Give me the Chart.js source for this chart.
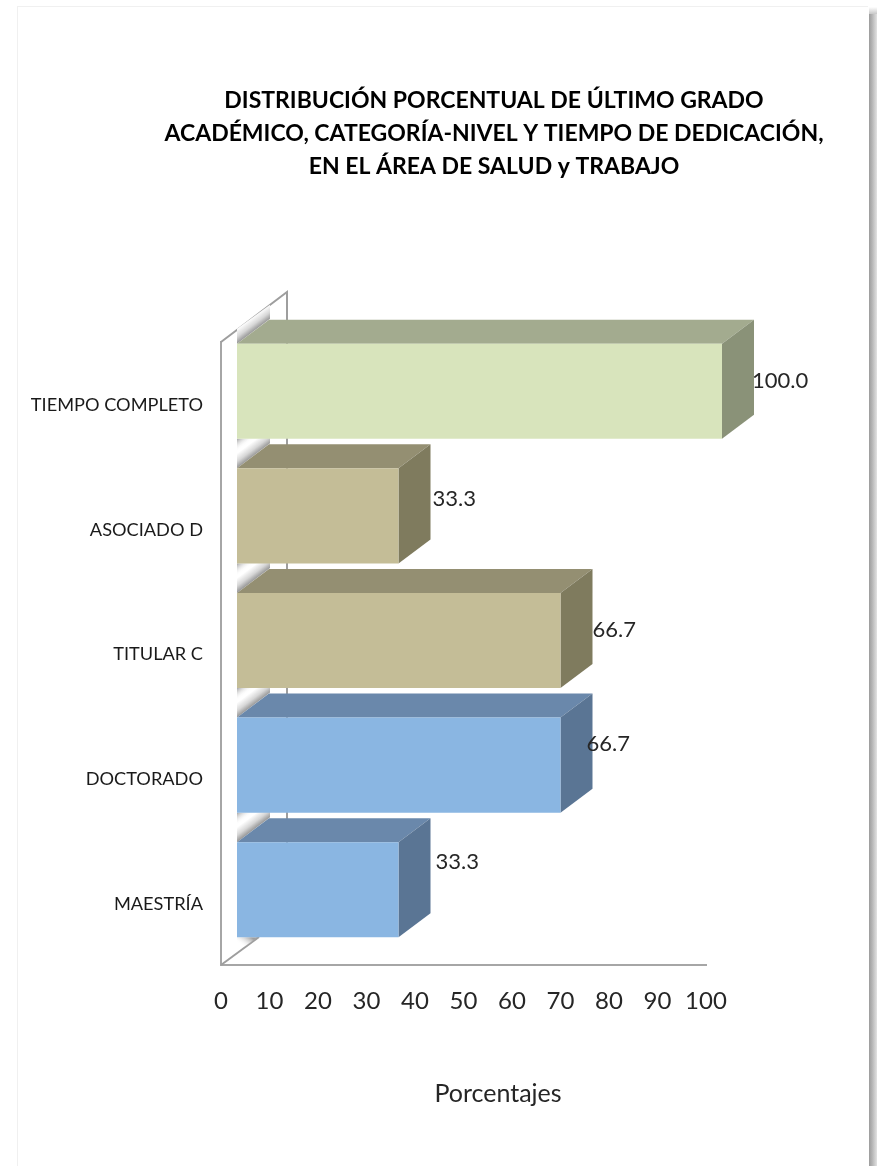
<!DOCTYPE html>
<html><head><meta charset="utf-8">
<script src="https://cdn.jsdelivr.net/npm/chart.js@4"></script>
<style>
html,body{margin:0;padding:0;background:#fff;width:877px;height:1166px;overflow:hidden}
#card{position:absolute;left:17px;top:6px;width:851px;height:1175px;background:#fff;border-left:1px solid #f0f0f0;border-top:1px solid #f0f0f0;box-sizing:border-box}
#shadow{position:absolute;left:869px;top:14px;width:8px;height:1152px;background:linear-gradient(to right,#9c9c9c,#b5b5b5 40%,#e2e2e2)}
#shadowTop{position:absolute;left:869px;top:7px;width:8px;height:7px;background:linear-gradient(to bottom,#fff,#c8c8c8)}
#wrap{position:absolute;left:0;top:0;width:877px;height:1166px}
</style></head><body>
<div id="card"></div><div id="shadowTop"></div><div id="shadow"></div>
<div id="wrap"><canvas id="c" width="877" height="1166"></canvas></div>
<script>
const titleLines = ["DISTRIBUCIÓN PORCENTUAL DE ÚLTIMO GRADO","ACADÉMICO, CATEGORÍA-NIVEL Y TIEMPO DE DEDICACIÓN,","EN EL ÁREA DE SALUD y TRABAJO"];
const categories = ["TIEMPO COMPLETO","ASOCIADO D","TITULAR C","DOCTORADO","MAESTRÍA"];
const values = [100.0,33.3,66.7,66.7,33.3];
const xTicks = [0,10,20,30,40,50,60,70,80,90,100];
const axisTitle = "Porcentajes";
const frontColors = ["#D8E4BC","#C4BD97","#C4BD97","#8AB6E2","#8AB6E2"];
const topColors = ["#A3AB8F","#948F72","#948F72","#6A88AB","#6A88AB"];
const sideColors = ["#8A9278","#7F7B5E","#7F7B5E","#5A7594","#5A7594"];
const labelDx = [30,34,32,26,37];
const labelDy = [-9,-16,-10,-20,-27];
const DX = 16, DY = -13, DEPTH_X = 32, DEPTH_Y = -24;
const FONT = "Lato, Carlito, sans-serif";

function poly(ctx, pts, fill){
  ctx.beginPath();
  pts.forEach((p,i)=> i?ctx.lineTo(p[0],p[1]):ctx.moveTo(p[0],p[1]));
  ctx.closePath();
  if(fill){ctx.fillStyle=fill;ctx.fill();}
}
const box3d = {
  id:'box3d',
  afterLayout(chart){
    const t = chart.titleBlock; const w = t.right - t.left;
    t.left = 494 - w/2; t.right = 494 + w/2;
  },
  beforeDatasetsDraw(chart){
    const {ctx, chartArea:a} = chart;
    const meta = chart.getDatasetMeta(0);
    const bx = a.left + 66, by = -50;
    ctx.save();
    ctx.strokeStyle = '#9E9E9E'; ctx.lineWidth = 2;
    ctx.beginPath();
    ctx.moveTo(a.left, a.top); ctx.lineTo(bx, a.top + by); ctx.lineTo(bx, a.bottom + by);
    ctx.stroke();
    ctx.beginPath(); ctx.moveTo(a.left, a.bottom); ctx.lineTo(a.left+38, a.bottom-28); ctx.stroke();
    const x0 = a.left + DX;
    meta.data.forEach((b,i)=>{
      const top = b.y - b.height/2 + DY;
      const mx = x0+16, my = top-12;
      const g = ctx.createLinearGradient(mx, my, mx-0.6*12, my-0.8*12);
      g.addColorStop(0,'#969696');
      g.addColorStop(.45,'#d6d6d6');
      g.addColorStop(1,'#ffffff');
      poly(ctx,[[x0,top],[x0+33,top-25],[x0+33,top-25-14],[x0,top-15]],g);
      if(i>0){
        const prev = meta.data[i-1];
        const py = prev.y + prev.height/2 + DY;
        const h = ctx.createLinearGradient(x0, py, x0+6, py+8);
        h.addColorStop(0,'rgba(165,165,165,1)');
        h.addColorStop(1,'rgba(255,255,255,0)');
        poly(ctx,[[x0,py],[x0+33,py],[x0+33,py+2],[x0+6,py+22],[x0,py+22]],h);
      }
    });
    const last = meta.data[meta.data.length-1];
    const ly = last.y + last.height/2 + DY;
    const s = ctx.createLinearGradient(x0+14, ly, x0+7, ly+10);
    s.addColorStop(0,'rgba(160,160,160,1)');
    s.addColorStop(1,'rgba(255,255,255,0)');
    poly(ctx,[[x0,ly],[x0+21,ly],[x0,ly+15]],s);
    meta.data.forEach((b,i)=>{
      const xl = b.base + DX, xr = b.x + DX, yt = b.y - b.height/2 + DY, yb = b.y + b.height/2 + DY;
      poly(ctx,[[xl,yt],[xl+DEPTH_X,yt+DEPTH_Y],[xr+DEPTH_X,yt+DEPTH_Y],[xr,yt]],topColors[i]);
      poly(ctx,[[xr,yt],[xr+DEPTH_X,yt+DEPTH_Y],[xr+DEPTH_X,yb+DEPTH_Y],[xr,yb]],sideColors[i]);
    });
    ctx.restore();
  },
  beforeDatasetDraw(chart){ chart.ctx.save(); chart.ctx.translate(DX,DY); },
  afterDatasetDraw(chart){ chart.ctx.restore(); },
  afterDatasetsDraw(chart){
    const {ctx} = chart;
    const meta = chart.getDatasetMeta(0);
    ctx.save();
    ctx.font = "22px "+FONT; ctx.fillStyle = '#262626';
    ctx.textAlign='left'; ctx.textBaseline='middle';
    meta.data.forEach((b,i)=>{
      ctx.fillText(values[i].toFixed(1), b.x + DX + labelDx[i], b.y + DY + labelDy[i] - 1);
    });
    ctx.restore();
  }
};
new Chart(document.getElementById('c'),{
  type:'bar',
  plugins:[box3d],
  data:{labels:categories,datasets:[{data:values,backgroundColor:frontColors,borderWidth:0,barPercentage:.763,categoryPercentage:1}]},
  options:{
    indexAxis:'y',responsive:false,animation:false,
    layout:{padding:{left:0,right:171,top:0,bottom:0}},
    plugins:{
      legend:{display:false},tooltip:{enabled:false},
      title:{display:true,text:titleLines,color:'#000',font:{family:FONT,size:23,weight:'bold',lineHeight:33/23},padding:{top:84,bottom:159}}
    },
    scales:{
      x:{type:'linear',min:0,max:100,position:'bottom',
        afterBuildTicks(s){s.ticks=xTicks.map(v=>({value:v}));},
        afterFit(s){s.height=201;},
        afterDataLimits(s){
          if(!s._shifted){s._shifted=true;const o=s.drawTitle;s.drawTitle=function(){const c=this.ctx;c.save();c.translate(34.5,0);o.apply(this,arguments);c.restore();};}
        },
        grid:{display:false,drawTicks:false},
        border:{display:true,color:'#A6A6A6',width:2},
        ticks:{color:'#262626',padding:22,autoSkip:false,maxRotation:0,font:{family:FONT,size:24}},
        title:{display:true,text:axisTitle,color:'#262626',font:{family:FONT,size:25},padding:{top:0,bottom:57}}
      },
      y:{type:'category',position:'left',
        afterFit(s){s.width=221;},
        grid:{display:false,drawTicks:false},
        border:{display:true,color:'#A6A6A6',width:2},
        ticks:{color:'#1a1a1a',padding:18,labelOffset:1,autoSkip:false,font:{family:FONT,size:18.2}}
      }
    }
  }
});
</script>
</body></html>
